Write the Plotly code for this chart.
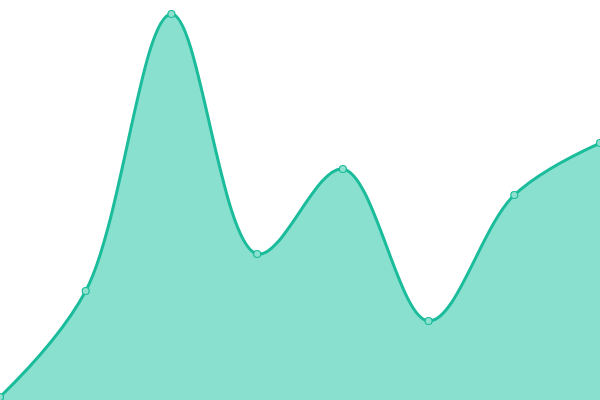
import plotly.graph_objects as go

x_vals = [0, 1, 2, 3, 4, 5, 6, 7]
y_vals = [3, 109, 386, 146, 231, 79, 205, 257]

fig = go.Figure()

fig.add_trace(go.Scatter(
    x=x_vals,
    y=y_vals,
    mode='lines+markers',
    line=dict(color='#1bbc9b', width=3, shape='spline', smoothing=1),
    fill='tozeroy',
    fillcolor='#89e0cf',
    marker=dict(size=7, color='#8ee0cf', line=dict(color='#1bbc9b', width=1.2)),
    cliponaxis=False,
    hoverinfo='skip'
))

fig.update_layout(
    width=600, height=400,
    margin=dict(l=0, r=0, t=0, b=0),
    paper_bgcolor='white',
    plot_bgcolor='white',
    showlegend=False,
    xaxis=dict(visible=False, range=[0, 7], fixedrange=True),
    yaxis=dict(visible=False, range=[0, 400], fixedrange=True),
)

# drop the browser's default body margin so the chart fills the window
fig.write_html("out.html", config={'displayModeBar': False},
               post_script="document.body.style.margin='0';")
